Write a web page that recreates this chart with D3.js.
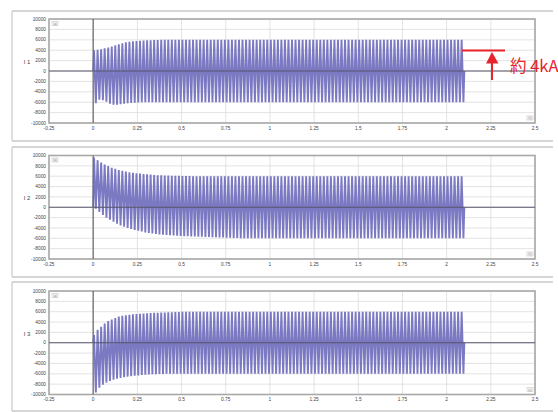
<!DOCTYPE html>
<html>
<head>
<meta charset="utf-8">
<script src="https://cdn.jsdelivr.net/npm/d3@7"></script>
<style>
  html, body { margin: 0; padding: 0; background: #ffffff; }
  svg { display: block; }
</style>
</head>
<body>
<svg id="chart" width="558" height="412"></svg>
<script>
// ---------------- data ----------------
const xTicks = [-0.25, 0, 0.25, 0.5, 0.75, 1, 1.25, 1.5, 1.75, 2, 2.25, 2.5];
const xTickLabels = ["-0.25", "0", "0.25", "0.5", "0.75", "1", "1.25", "1.5", "1.75", "2", "2.25", "2.5"];
const yTicks = [10000, 8000, 6000, 4000, 2000, 0, -2000, -4000, -6000, -8000, -10000];
const panelNames = ["I 1", "I 2", "I 3"];
const cyclePeriod = 0.02; // s per cycle (50 Hz)

// per-cycle positive / negative peaks (A)
const I1max = [4000,4100,4200,4350,4500,4700,4950,5150,5350,5500,5600,5700,5750,5800,5850,5900,5900,5950,5950,
  6000,6000,6000,6000,6000,6000,6000,6000,6000,6000,
  6000,6000,6000,6000,6000,6000,6000,6000,6000,6000,
  6000,6000,6000,6000,6000,6000,6000,6000,6000,6000,
  6000,6000,6000,6000,6000,6000,6000,6000,6000,6000,
  6000,6000,6000,6000,6000,6000,6000,6000,6000,6000,
  6000,6000,6000,6000,6000,6000,6000,6000,6000,6000,
  6000,6000,6000,6000,6000,6000,6000,6000,6000,6000,
  6000,6000,6000,6000,6000,6000,6000,6000,6000,6000,
  6000,6000,6000,6000,6000,6000];
const I1min = [-6200,-5500,-5600,-5900,-6300,-6500,-6500,-6400,-6300,-6200,-6150,-6100,-6050,
  -6000,-6000,-6000,-6000,-6000,-6000,-6000,-6000,-6000,-6000,
  -6000,-6000,-6000,-6000,-6000,-6000,-6000,-6000,-6000,-6000,
  -6000,-6000,-6000,-6000,-6000,-6000,-6000,-6000,-6000,-6000,
  -6000,-6000,-6000,-6000,-6000,-6000,-6000,-6000,-6000,-6000,
  -6000,-6000,-6000,-6000,-6000,-6000,-6000,-6000,-6000,-6000,
  -6000,-6000,-6000,-6000,-6000,-6000,-6000,-6000,-6000,-6000,
  -6000,-6000,-6000,-6000,-6000,-6000,-6000,-6000,-6000,-6000,
  -6000,-6000,-6000,-6000,-6000,-6000,-6000,-6000,-6000,-6000,
  -6000,-6000,-6000,-6000,-6000,-6000,-6000,-6000,-6000,-6000,
  -6000,-6000];
const I2max = [9600,9100,8650,8250,7950,7650,7450,7200,7050,6900,6750,6650,6550,6500,6400,6350,6300,6250,6200,6200,6150,6150,6100,6100,6100,6050,6050,6050,
  6000,6000,6000,6000,6000,6000,6000,6000,6000,6000,
  6000,6000,6000,6000,6000,6000,6000,6000,6000,6000,
  6000,6000,6000,6000,6000,6000,6000,6000,6000,6000,
  6000,6000,6000,6000,6000,6000,6000,6000,6000,6000,
  6000,6000,6000,6000,6000,6000,6000,6000,6000,6000,
  6000,6000,6000,6000,6000,6000,6000,6000,6000,6000,
  6000,6000,6000,6000,6000,6000,6000,6000,6000,6000,
  6000,6000,6000,6000,6000,6000,6000];
const I2min = [-300,-900,-1500,-2000,-2400,-2800,-3200,-3500,-3750,-4000,-4200,-4400,-4550,-4700,-4850,-4950,-5050,-5150,-5250,-5300,
  -5350,-5400,-5450,-5500,-5550,-5600,-5600,-5650,-5650,-5700,-5700,-5750,-5750,-5800,-5800,-5850,-5850,-5900,-5900,-5950,-5950,
  -6000,-6000,-6000,-6000,-6000,-6000,-6000,-6000,-6000,-6000,
  -6000,-6000,-6000,-6000,-6000,-6000,-6000,-6000,-6000,-6000,
  -6000,-6000,-6000,-6000,-6000,-6000,-6000,-6000,-6000,-6000,
  -6000,-6000,-6000,-6000,-6000,-6000,-6000,-6000,-6000,-6000,
  -6000,-6000,-6000,-6000,-6000,-6000,-6000,-6000,-6000,-6000,
  -6000,-6000,-6000,-6000,-6000,-6000,-6000,-6000,-6000,-6000,
  -6000,-6000,-6000,-6000];
const I3max = [1500,2500,3100,3700,4200,4500,4800,5050,5200,5300,5400,5500,5550,5600,5650,5700,5750,5800,5800,5850,5850,5900,5900,5950,5950,
  6000,6000,6000,6000,6000,6000,6000,6000,6000,6000,
  6000,6000,6000,6000,6000,6000,6000,6000,6000,6000,
  6000,6000,6000,6000,6000,6000,6000,6000,6000,6000,
  6000,6000,6000,6000,6000,6000,6000,6000,6000,6000,
  6000,6000,6000,6000,6000,6000,6000,6000,6000,6000,
  6000,6000,6000,6000,6000,6000,6000,6000,6000,6000,
  6000,6000,6000,6000,6000,6000,6000,6000,6000,6000,
  6000,6000,6000,6000,6000,6000,6000,6000,6000,6000];
const I3min = [-9600,-8700,-8100,-7700,-7400,-7150,-6950,-6800,-6650,-6550,-6450,-6350,-6300,-6250,-6200,-6150,-6100,-6100,-6050,-6050,
  -6000,-6000,-6000,-6000,-6000,-6000,-6000,-6000,-6000,-6000,
  -6000,-6000,-6000,-6000,-6000,-6000,-6000,-6000,-6000,-6000,
  -6000,-6000,-6000,-6000,-6000,-6000,-6000,-6000,-6000,-6000,
  -6000,-6000,-6000,-6000,-6000,-6000,-6000,-6000,-6000,-6000,
  -6000,-6000,-6000,-6000,-6000,-6000,-6000,-6000,-6000,-6000,
  -6000,-6000,-6000,-6000,-6000,-6000,-6000,-6000,-6000,-6000,
  -6000,-6000,-6000,-6000,-6000,-6000,-6000,-6000,-6000,-6000,
  -6000,-6000,-6000,-6000,-6000,-6000,-6000,-6000,-6000,-6000,
  -6000,-6000,-6000,-6000,-6000];

const annotationText = "約 4kA";

// ---------------- layout ----------------
const svg = d3.select("#chart");
const plotLeft = 49, plotRight = 535;
const panels = [
  { name: panelNames[0], max: I1max, min: I1min, frameTop: 11, frameBottom: 141, top: 19, bottom: 123 },
  { name: panelNames[1], max: I2max, min: I2min, frameTop: 147, frameBottom: 277, top: 155.5, bottom: 259 },
  { name: panelNames[2], max: I3max, min: I3min, frameTop: 282, frameBottom: 411, top: 291, bottom: 394.5 }
];

const x = d3.scaleLinear().domain([-0.25, 2.5]).range([plotLeft, plotRight]);
const font = "Liberation Sans, Arial, sans-serif";

panels.forEach((p) => {
  const y = d3.scaleLinear().domain([-10000, 10000]).range([p.bottom, p.top]);
  const g = svg.append("g");

  // outer panel frame
  g.append("line").attr("x1", 12).attr("x2", 553).attr("y1", p.frameTop).attr("y2", p.frameTop)
    .attr("stroke", "#c8c8c8").attr("stroke-width", 1.5);
  g.append("line").attr("x1", 12).attr("x2", 553).attr("y1", p.frameBottom).attr("y2", p.frameBottom)
    .attr("stroke", "#c8c8c8").attr("stroke-width", 1.5);
  g.append("line").attr("x1", 12).attr("x2", 12).attr("y1", p.frameTop).attr("y2", p.frameBottom)
    .attr("stroke", "#c8c8c8").attr("stroke-width", 1.2);

  // grid
  g.append("g").selectAll("line").data(yTicks).join("line")
    .attr("x1", plotLeft).attr("x2", plotRight)
    .attr("y1", d => y(d)).attr("y2", d => y(d))
    .attr("stroke", "#dcdcdc").attr("stroke-width", 0.8);
  g.append("g").selectAll("line").data(xTicks).join("line")
    .attr("x1", d => x(d)).attr("x2", d => x(d))
    .attr("y1", p.top).attr("y2", p.bottom)
    .attr("stroke", "#dcdcdc").attr("stroke-width", 0.8);

  // plot frame
  g.append("rect").attr("x", plotLeft).attr("y", p.top)
    .attr("width", plotRight - plotLeft).attr("height", p.bottom - p.top)
    .attr("fill", "none").attr("stroke", "#a8a8a8").attr("stroke-width", 1.6);

  // waveform
  const n = Math.min(p.max.length, p.min.length);
  const pts = [[0, 0]];
  for (let k = 0; k < n; k++) {
    pts.push([k * cyclePeriod + cyclePeriod * 0.25, p.max[k]]);
    pts.push([k * cyclePeriod + cyclePeriod * 0.75, p.min[k]]);
  }
  pts.push([n * cyclePeriod, 0]);
  const line = d3.line().x(d => x(d[0])).y(d => y(d[1]));
  g.append("path").attr("d", line(pts))
    .attr("fill", "none").attr("stroke", "#7b79c2").attr("stroke-width", 1.9)
    .attr("stroke-linejoin", "bevel");

  // zero line and t=0 axis
  g.append("line").attr("x1", plotLeft).attr("x2", plotRight).attr("y1", y(0)).attr("y2", y(0))
    .attr("stroke", "#55556a").attr("stroke-width", 1.2);
  g.append("line").attr("x1", x(0)).attr("x2", x(0)).attr("y1", p.top).attr("y2", p.bottom)
    .attr("stroke", "#707070").attr("stroke-width", 1.3);

  // y tick labels
  g.append("g").selectAll("text").data(yTicks).join("text")
    .attr("x", 46).attr("y", d => y(d)).attr("dy", "0.35em")
    .attr("text-anchor", "end").attr("font-family", font).attr("font-size", 4.8)
    .attr("fill", "#444").text(d => d);

  // x tick labels
  g.append("g").selectAll("text").data(xTicks).join("text")
    .attr("x", d => x(d)).attr("y", p.bottom + 5).attr("dy", "0.35em")
    .attr("text-anchor", "middle").attr("font-family", font).attr("font-size", 4.8)
    .attr("fill", "#444").text((d, i) => xTickLabels[i]);

  // axis name
  g.append("text").attr("x", 27).attr("y", y(1800)).attr("dy", "0.35em")
    .attr("text-anchor", "middle").attr("font-family", font).attr("font-size", 6)
    .attr("fill", "#444").text(p.name);

  // small unit boxes
  g.append("rect").attr("x", 52).attr("y", p.top + 2.5).attr("width", 6).attr("height", 4)
    .attr("fill", "#fff").attr("stroke", "#bbb").attr("stroke-width", 0.5);
  g.append("text").attr("x", 55).attr("y", p.top + 4.5).attr("dy", "0.35em")
    .attr("text-anchor", "middle").attr("font-family", font).attr("font-size", 3)
    .attr("fill", "#666").text("(a)");
  g.append("rect").attr("x", 527).attr("y", p.bottom - 7).attr("width", 6).attr("height", 4)
    .attr("fill", "#fff").attr("stroke", "#bbb").attr("stroke-width", 0.5);
  g.append("text").attr("x", 530).attr("y", p.bottom - 5).attr("dy", "0.35em")
    .attr("text-anchor", "middle").attr("font-family", font).attr("font-size", 3)
    .attr("fill", "#666").text("(s)");
});

// ---------------- annotation ----------------
const red = "#e8232b";
const ann = svg.append("g");
ann.append("line").attr("x1", 462).attr("x2", 505).attr("y1", 50.5).attr("y2", 50.5)
  .attr("stroke", red).attr("stroke-width", 2.2);
ann.append("line").attr("x1", 492).attr("x2", 492).attr("y1", 61).attr("y2", 80)
  .attr("stroke", red).attr("stroke-width", 2);
ann.append("path").attr("d", "M492,52 L486,63.5 L498.5,63.5 Z").attr("fill", red);
ann.append("text").attr("x", 510).attr("y", 72).attr("font-family", "Noto Sans CJK JP, sans-serif")
  .attr("font-size", 16.5).attr("fill", red).text(annotationText);
</script>
</body>
</html>
